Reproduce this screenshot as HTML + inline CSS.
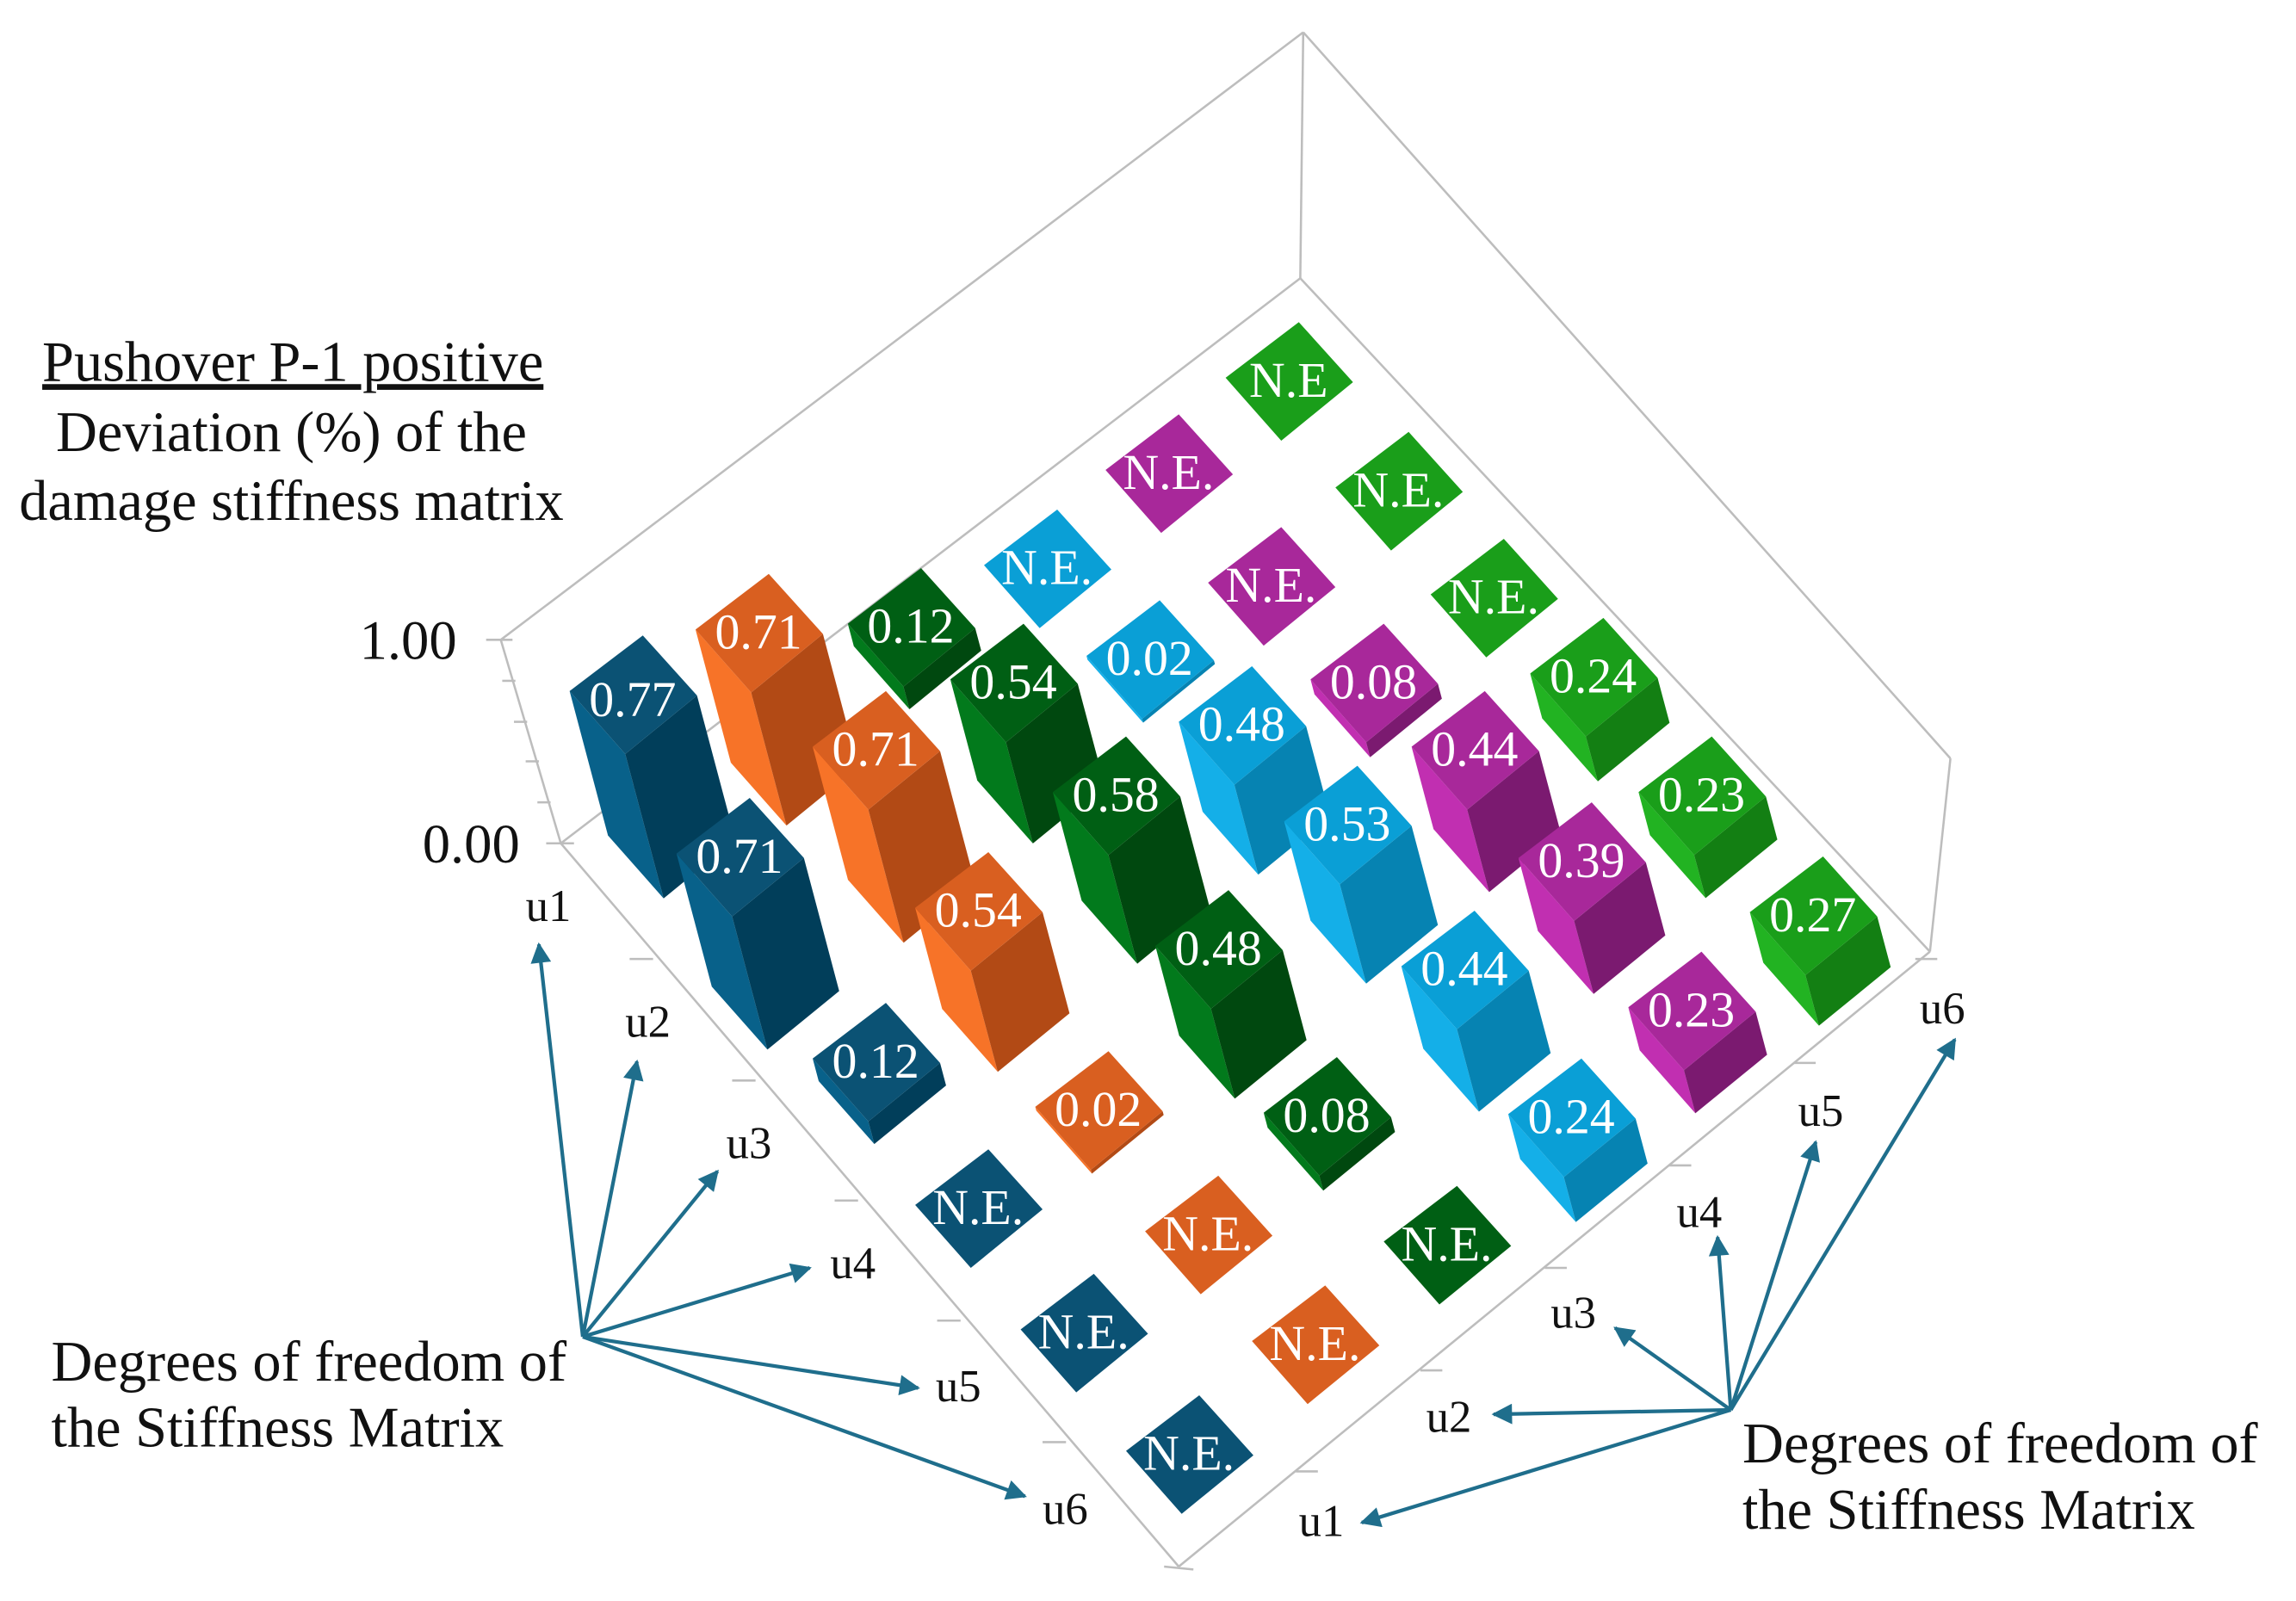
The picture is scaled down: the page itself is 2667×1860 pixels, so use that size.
<!DOCTYPE html>
<html><head><meta charset="utf-8"><style>
html,body{margin:0;padding:0;background:#fff}
svg{display:block}
text{font-family:"Liberation Serif",serif}
.db .t{fill:#0b5274}.db .l{fill:#08618a}.db .r{fill:#013e5a}
.or .t{fill:#d95f20}.or .l{fill:#f77328}.or .r{fill:#b24a15}
.dg .t{fill:#005f14}.dg .l{fill:#027a1c}.dg .r{fill:#00480f}
.lb .t{fill:#0a9fd6}.lb .l{fill:#14afe8}.lb .r{fill:#0683b2}
.mg .t{fill:#a8289a}.mg .l{fill:#c12fb1}.mg .r{fill:#7b1a70}
.gr .t{fill:#1a9e1a}.gr .l{fill:#22b322}.gr .r{fill:#137f13}
.v{fill:#fff;font-size:34px;text-anchor:middle}
.ax{fill:#111;font-size:31px}
.big{fill:#111;font-size:39px}
</style></head><body>
<svg width="2667" height="1860" viewBox="0 0 1568 1093.5" xmlns="http://www.w3.org/2000/svg">
<defs>
<marker id="a2" viewBox="0 0 10 10" refX="9" refY="5" markerWidth="18" markerHeight="14" orient="auto" markerUnits="userSpaceOnUse"><path d="M0,0 L10,5 L0,10 Z" fill="#1f6e8c"/></marker></defs>
<g stroke="#bdbdbd" stroke-width="1.5" fill="none">
<line x1="342" y1="437" x2="890" y2="22"/>
<line x1="890" y1="22" x2="888" y2="190"/>
<line x1="890" y1="22" x2="1332" y2="518"/>
<line x1="1332" y1="518" x2="1318" y2="650"/>
<line x1="383" y1="576" x2="888" y2="190"/>
<line x1="888" y1="190" x2="1318" y2="650"/>
<line x1="342" y1="437" x2="383" y2="576"/>
<line x1="383" y1="576" x2="805" y2="1070"/>
<line x1="805" y1="1070" x2="1318" y2="650"/>
<line x1="332" y1="437" x2="350" y2="437"/>
<line x1="373" y1="576" x2="392" y2="576"/>
<line x1="343" y1="465" x2="352" y2="465"/><line x1="351" y1="493" x2="360" y2="493"/><line x1="359" y1="520" x2="368" y2="520"/><line x1="367" y1="548" x2="376" y2="548"/>
<line x1="430" y1="655" x2="446" y2="655"/><line x1="500" y1="738" x2="516" y2="738"/><line x1="570" y1="820" x2="586" y2="820"/><line x1="640" y1="902" x2="656" y2="902"/><line x1="712" y1="985" x2="728" y2="985"/>
<line x1="795" y1="1070" x2="815" y2="1072"/>
<line x1="885" y1="1005" x2="900" y2="1005"/><line x1="970" y1="936" x2="985" y2="936"/><line x1="1055" y1="866" x2="1070" y2="866"/><line x1="1140" y1="796" x2="1155" y2="796"/><line x1="1225" y1="726" x2="1240" y2="726"/><line x1="1308" y1="655" x2="1323" y2="655"/>
</g>
<text class="big" x="200" y="260" text-anchor="middle" text-decoration="underline">Pushover P-1 positive</text>
<text class="big" x="199" y="308" text-anchor="middle">Deviation (%) of the</text>
<text class="big" x="199" y="355" text-anchor="middle">damage stiffness matrix</text>
<text class="big" x="312" y="450" text-anchor="end" style="font-size:38px">1.00</text>
<text class="big" x="355" y="589" text-anchor="end" style="font-size:38px">0.00</text>

<g class="gr" transform="translate(880,260)"><polygon class="t" points="-43,-2 7,-40 44,1 -5,41"/><text class="v" y="11">N.E</text></g>
<g class="mg" transform="translate(798,323)"><polygon class="t" points="-43,-2 7,-40 44,1 -5,41"/><text class="v" y="11">N.E.</text></g>
<g class="gr" transform="translate(955,335)"><polygon class="t" points="-43,-2 7,-40 44,1 -5,41"/><text class="v" y="11">N.E.</text></g>
<g class="lb" transform="translate(715,388)"><polygon class="t" points="-43,-2 7,-40 44,1 -5,41"/><text class="v" y="11">N.E.</text></g>
<g class="mg" transform="translate(868,400)"><polygon class="t" points="-43,-2 7,-40 44,1 -5,41"/><text class="v" y="11">N.E.</text></g>
<g class="gr" transform="translate(1020,408)"><polygon class="t" points="-43,-2 7,-40 44,1 -5,41"/><text class="v" y="11">N.E.</text></g>
<g class="dg" transform="translate(622,428)"><polygon class="l" points="0,0 1,0 1,1 0,1" transform="matrix(38 43 4.1 15.4 -43 -2)"/><polygon class="r" points="0,0 1,0 1,1 0,1" transform="matrix(49 -40 4.1 15.4 -5 41)"/><polygon class="t" points="-43,-2 7,-40 44,1 -5,41"/><text class="v" y="11">0.12</text></g>
<g class="lb" transform="translate(785,450)"><polygon class="l" points="0,0 1,0 1,1 0,1" transform="matrix(38 43 0.7 2.6 -43 -2)"/><polygon class="r" points="0,0 1,0 1,1 0,1" transform="matrix(49 -40 0.7 2.6 -5 41)"/><polygon class="t" points="-43,-2 7,-40 44,1 -5,41"/><text class="v" y="11">0.02</text></g>
<g class="mg" transform="translate(938,466)"><polygon class="l" points="0,0 1,0 1,1 0,1" transform="matrix(38 43 2.7 10.2 -43 -2)"/><polygon class="r" points="0,0 1,0 1,1 0,1" transform="matrix(49 -40 2.7 10.2 -5 41)"/><polygon class="t" points="-43,-2 7,-40 44,1 -5,41"/><text class="v" y="11">0.08</text></g>
<g class="gr" transform="translate(1088,462)"><polygon class="l" points="0,0 1,0 1,1 0,1" transform="matrix(38 43 8.2 30.7 -43 -2)"/><polygon class="r" points="0,0 1,0 1,1 0,1" transform="matrix(49 -40 8.2 30.7 -5 41)"/><polygon class="t" points="-43,-2 7,-40 44,1 -5,41"/><text class="v" y="11">0.24</text></g>
<g class="or" transform="translate(518,432)"><polygon class="l" points="0,0 1,0 1,1 0,1" transform="matrix(38 43 24.1 90.9 -43 -2)"/><polygon class="r" points="0,0 1,0 1,1 0,1" transform="matrix(49 -40 24.1 90.9 -5 41)"/><polygon class="t" points="-43,-2 7,-40 44,1 -5,41"/><text class="v" y="11">0.71</text></g>
<g class="dg" transform="translate(692,466)"><polygon class="l" points="0,0 1,0 1,1 0,1" transform="matrix(38 43 18.4 69.1 -43 -2)"/><polygon class="r" points="0,0 1,0 1,1 0,1" transform="matrix(49 -40 18.4 69.1 -5 41)"/><polygon class="t" points="-43,-2 7,-40 44,1 -5,41"/><text class="v" y="11">0.54</text></g>
<g class="lb" transform="translate(848,495)"><polygon class="l" points="0,0 1,0 1,1 0,1" transform="matrix(38 43 16.3 61.4 -43 -2)"/><polygon class="r" points="0,0 1,0 1,1 0,1" transform="matrix(49 -40 16.3 61.4 -5 41)"/><polygon class="t" points="-43,-2 7,-40 44,1 -5,41"/><text class="v" y="11">0.48</text></g>
<g class="mg" transform="translate(1007,512)"><polygon class="l" points="0,0 1,0 1,1 0,1" transform="matrix(38 43 15 56.3 -43 -2)"/><polygon class="r" points="0,0 1,0 1,1 0,1" transform="matrix(49 -40 15 56.3 -5 41)"/><polygon class="t" points="-43,-2 7,-40 44,1 -5,41"/><text class="v" y="11">0.44</text></g>
<g class="gr" transform="translate(1162,543)"><polygon class="l" points="0,0 1,0 1,1 0,1" transform="matrix(38 43 7.8 29.4 -43 -2)"/><polygon class="r" points="0,0 1,0 1,1 0,1" transform="matrix(49 -40 7.8 29.4 -5 41)"/><polygon class="t" points="-43,-2 7,-40 44,1 -5,41"/><text class="v" y="11">0.23</text></g>
<g class="db" transform="translate(432,474)"><polygon class="l" points="0,0 1,0 1,1 0,1" transform="matrix(38 43 26.2 98.6 -43 -2)"/><polygon class="r" points="0,0 1,0 1,1 0,1" transform="matrix(49 -40 26.2 98.6 -5 41)"/><polygon class="t" points="-43,-2 7,-40 44,1 -5,41"/><text class="v" y="15">0.77</text></g>
<g class="or" transform="translate(598,512)"><polygon class="l" points="0,0 1,0 1,1 0,1" transform="matrix(38 43 24.1 90.9 -43 -2)"/><polygon class="r" points="0,0 1,0 1,1 0,1" transform="matrix(49 -40 24.1 90.9 -5 41)"/><polygon class="t" points="-43,-2 7,-40 44,1 -5,41"/><text class="v" y="11">0.71</text></g>
<g class="dg" transform="translate(762,543)"><polygon class="l" points="0,0 1,0 1,1 0,1" transform="matrix(38 43 19.7 74.2 -43 -2)"/><polygon class="r" points="0,0 1,0 1,1 0,1" transform="matrix(49 -40 19.7 74.2 -5 41)"/><polygon class="t" points="-43,-2 7,-40 44,1 -5,41"/><text class="v" y="11">0.58</text></g>
<g class="lb" transform="translate(920,563)"><polygon class="l" points="0,0 1,0 1,1 0,1" transform="matrix(38 43 18 67.8 -43 -2)"/><polygon class="r" points="0,0 1,0 1,1 0,1" transform="matrix(49 -40 18 67.8 -5 41)"/><polygon class="t" points="-43,-2 7,-40 44,1 -5,41"/><text class="v" y="11">0.53</text></g>
<g class="mg" transform="translate(1080,588)"><polygon class="l" points="0,0 1,0 1,1 0,1" transform="matrix(38 43 13.3 49.9 -43 -2)"/><polygon class="r" points="0,0 1,0 1,1 0,1" transform="matrix(49 -40 13.3 49.9 -5 41)"/><polygon class="t" points="-43,-2 7,-40 44,1 -5,41"/><text class="v" y="11">0.39</text></g>
<g class="gr" transform="translate(1238,625)"><polygon class="l" points="0,0 1,0 1,1 0,1" transform="matrix(38 43 9.2 34.6 -43 -2)"/><polygon class="r" points="0,0 1,0 1,1 0,1" transform="matrix(49 -40 9.2 34.6 -5 41)"/><polygon class="t" points="-43,-2 7,-40 44,1 -5,41"/><text class="v" y="11">0.27</text></g>
<g class="db" transform="translate(505,585)"><polygon class="l" points="0,0 1,0 1,1 0,1" transform="matrix(38 43 24.1 90.9 -43 -2)"/><polygon class="r" points="0,0 1,0 1,1 0,1" transform="matrix(49 -40 24.1 90.9 -5 41)"/><polygon class="t" points="-43,-2 7,-40 44,1 -5,41"/><text class="v" y="11">0.71</text></g>
<g class="or" transform="translate(668,622)"><polygon class="l" points="0,0 1,0 1,1 0,1" transform="matrix(38 43 18.4 69.1 -43 -2)"/><polygon class="r" points="0,0 1,0 1,1 0,1" transform="matrix(49 -40 18.4 69.1 -5 41)"/><polygon class="t" points="-43,-2 7,-40 44,1 -5,41"/><text class="v" y="11">0.54</text></g>
<g class="dg" transform="translate(832,648)"><polygon class="l" points="0,0 1,0 1,1 0,1" transform="matrix(38 43 16.3 61.4 -43 -2)"/><polygon class="r" points="0,0 1,0 1,1 0,1" transform="matrix(49 -40 16.3 61.4 -5 41)"/><polygon class="t" points="-43,-2 7,-40 44,1 -5,41"/><text class="v" y="11">0.48</text></g>
<g class="lb" transform="translate(1000,662)"><polygon class="l" points="0,0 1,0 1,1 0,1" transform="matrix(38 43 15 56.3 -43 -2)"/><polygon class="r" points="0,0 1,0 1,1 0,1" transform="matrix(49 -40 15 56.3 -5 41)"/><polygon class="t" points="-43,-2 7,-40 44,1 -5,41"/><text class="v" y="11">0.44</text></g>
<g class="mg" transform="translate(1155,690)"><polygon class="l" points="0,0 1,0 1,1 0,1" transform="matrix(38 43 7.8 29.4 -43 -2)"/><polygon class="r" points="0,0 1,0 1,1 0,1" transform="matrix(49 -40 7.8 29.4 -5 41)"/><polygon class="t" points="-43,-2 7,-40 44,1 -5,41"/><text class="v" y="11">0.23</text></g>
<g class="db" transform="translate(598,725)"><polygon class="l" points="0,0 1,0 1,1 0,1" transform="matrix(38 43 4.1 15.4 -43 -2)"/><polygon class="r" points="0,0 1,0 1,1 0,1" transform="matrix(49 -40 4.1 15.4 -5 41)"/><polygon class="t" points="-43,-2 7,-40 44,1 -5,41"/><text class="v" y="11">0.12</text></g>
<g class="or" transform="translate(750,758)"><polygon class="l" points="0,0 1,0 1,1 0,1" transform="matrix(38 43 0.7 2.6 -43 -2)"/><polygon class="r" points="0,0 1,0 1,1 0,1" transform="matrix(49 -40 0.7 2.6 -5 41)"/><polygon class="t" points="-43,-2 7,-40 44,1 -5,41"/><text class="v" y="11">0.02</text></g>
<g class="dg" transform="translate(906,762)"><polygon class="l" points="0,0 1,0 1,1 0,1" transform="matrix(38 43 2.7 10.2 -43 -2)"/><polygon class="r" points="0,0 1,0 1,1 0,1" transform="matrix(49 -40 2.7 10.2 -5 41)"/><polygon class="t" points="-43,-2 7,-40 44,1 -5,41"/><text class="v" y="11">0.08</text></g>
<g class="lb" transform="translate(1073,763)"><polygon class="l" points="0,0 1,0 1,1 0,1" transform="matrix(38 43 8.2 30.7 -43 -2)"/><polygon class="r" points="0,0 1,0 1,1 0,1" transform="matrix(49 -40 8.2 30.7 -5 41)"/><polygon class="t" points="-43,-2 7,-40 44,1 -5,41"/><text class="v" y="11">0.24</text></g>
<g class="db" transform="translate(668,825)"><polygon class="t" points="-43,-2 7,-40 44,1 -5,41"/><text class="v" y="11">N.E.</text></g>
<g class="or" transform="translate(825,843)"><polygon class="t" points="-43,-2 7,-40 44,1 -5,41"/><text class="v" y="11">N.E.</text></g>
<g class="dg" transform="translate(988,850)"><polygon class="t" points="-43,-2 7,-40 44,1 -5,41"/><text class="v" y="11">N.E.</text></g>
<g class="db" transform="translate(740,910)"><polygon class="t" points="-43,-2 7,-40 44,1 -5,41"/><text class="v" y="11">N.E.</text></g>
<g class="or" transform="translate(898,918)"><polygon class="t" points="-43,-2 7,-40 44,1 -5,41"/><text class="v" y="11">N.E.</text></g>
<g class="db" transform="translate(812,993)"><polygon class="t" points="-43,-2 7,-40 44,1 -5,41"/><text class="v" y="11">N.E.</text></g>

<g stroke="#1f6e8c" stroke-width="2.5" fill="none" marker-end="url(#a2)">
<line x1="398" y1="913" x2="368" y2="645"/>
<line x1="398" y1="913" x2="435" y2="725"/>
<line x1="398" y1="913" x2="490" y2="800"/>
<line x1="398" y1="913" x2="553" y2="866"/>
<line x1="398" y1="913" x2="627" y2="948"/>
<line x1="398" y1="913" x2="700" y2="1022"/>
<line x1="1182" y1="963" x2="930" y2="1040"/>
<line x1="1182" y1="963" x2="1020" y2="966"/>
<line x1="1182" y1="963" x2="1103" y2="907"/>
<line x1="1182" y1="963" x2="1173" y2="845"/>
<line x1="1182" y1="963" x2="1240" y2="780"/>
<line x1="1182" y1="963" x2="1335" y2="710"/>
</g>
<text class="ax" x="359" y="629">u1</text>
<text class="ax" x="427" y="708">u2</text>
<text class="ax" x="496" y="791">u3</text>
<text class="ax" x="567" y="873">u4</text>
<text class="ax" x="639" y="957">u5</text>
<text class="ax" x="712" y="1041">u6</text>
<text class="ax" x="887" y="1049">u1</text>
<text class="ax" x="974" y="978">u2</text>
<text class="ax" x="1059" y="907">u3</text>
<text class="ax" x="1145" y="838">u4</text>
<text class="ax" x="1228" y="769">u5</text>
<text class="ax" x="1311" y="699">u6</text>
<text class="big" x="35" y="943">Degrees of freedom of</text>
<text class="big" x="35" y="988">the Stiffness Matrix</text>
<text class="big" x="1190" y="999">Degrees of freedom of</text>
<text class="big" x="1190" y="1044">the Stiffness Matrix</text>
</svg>
</body></html>
